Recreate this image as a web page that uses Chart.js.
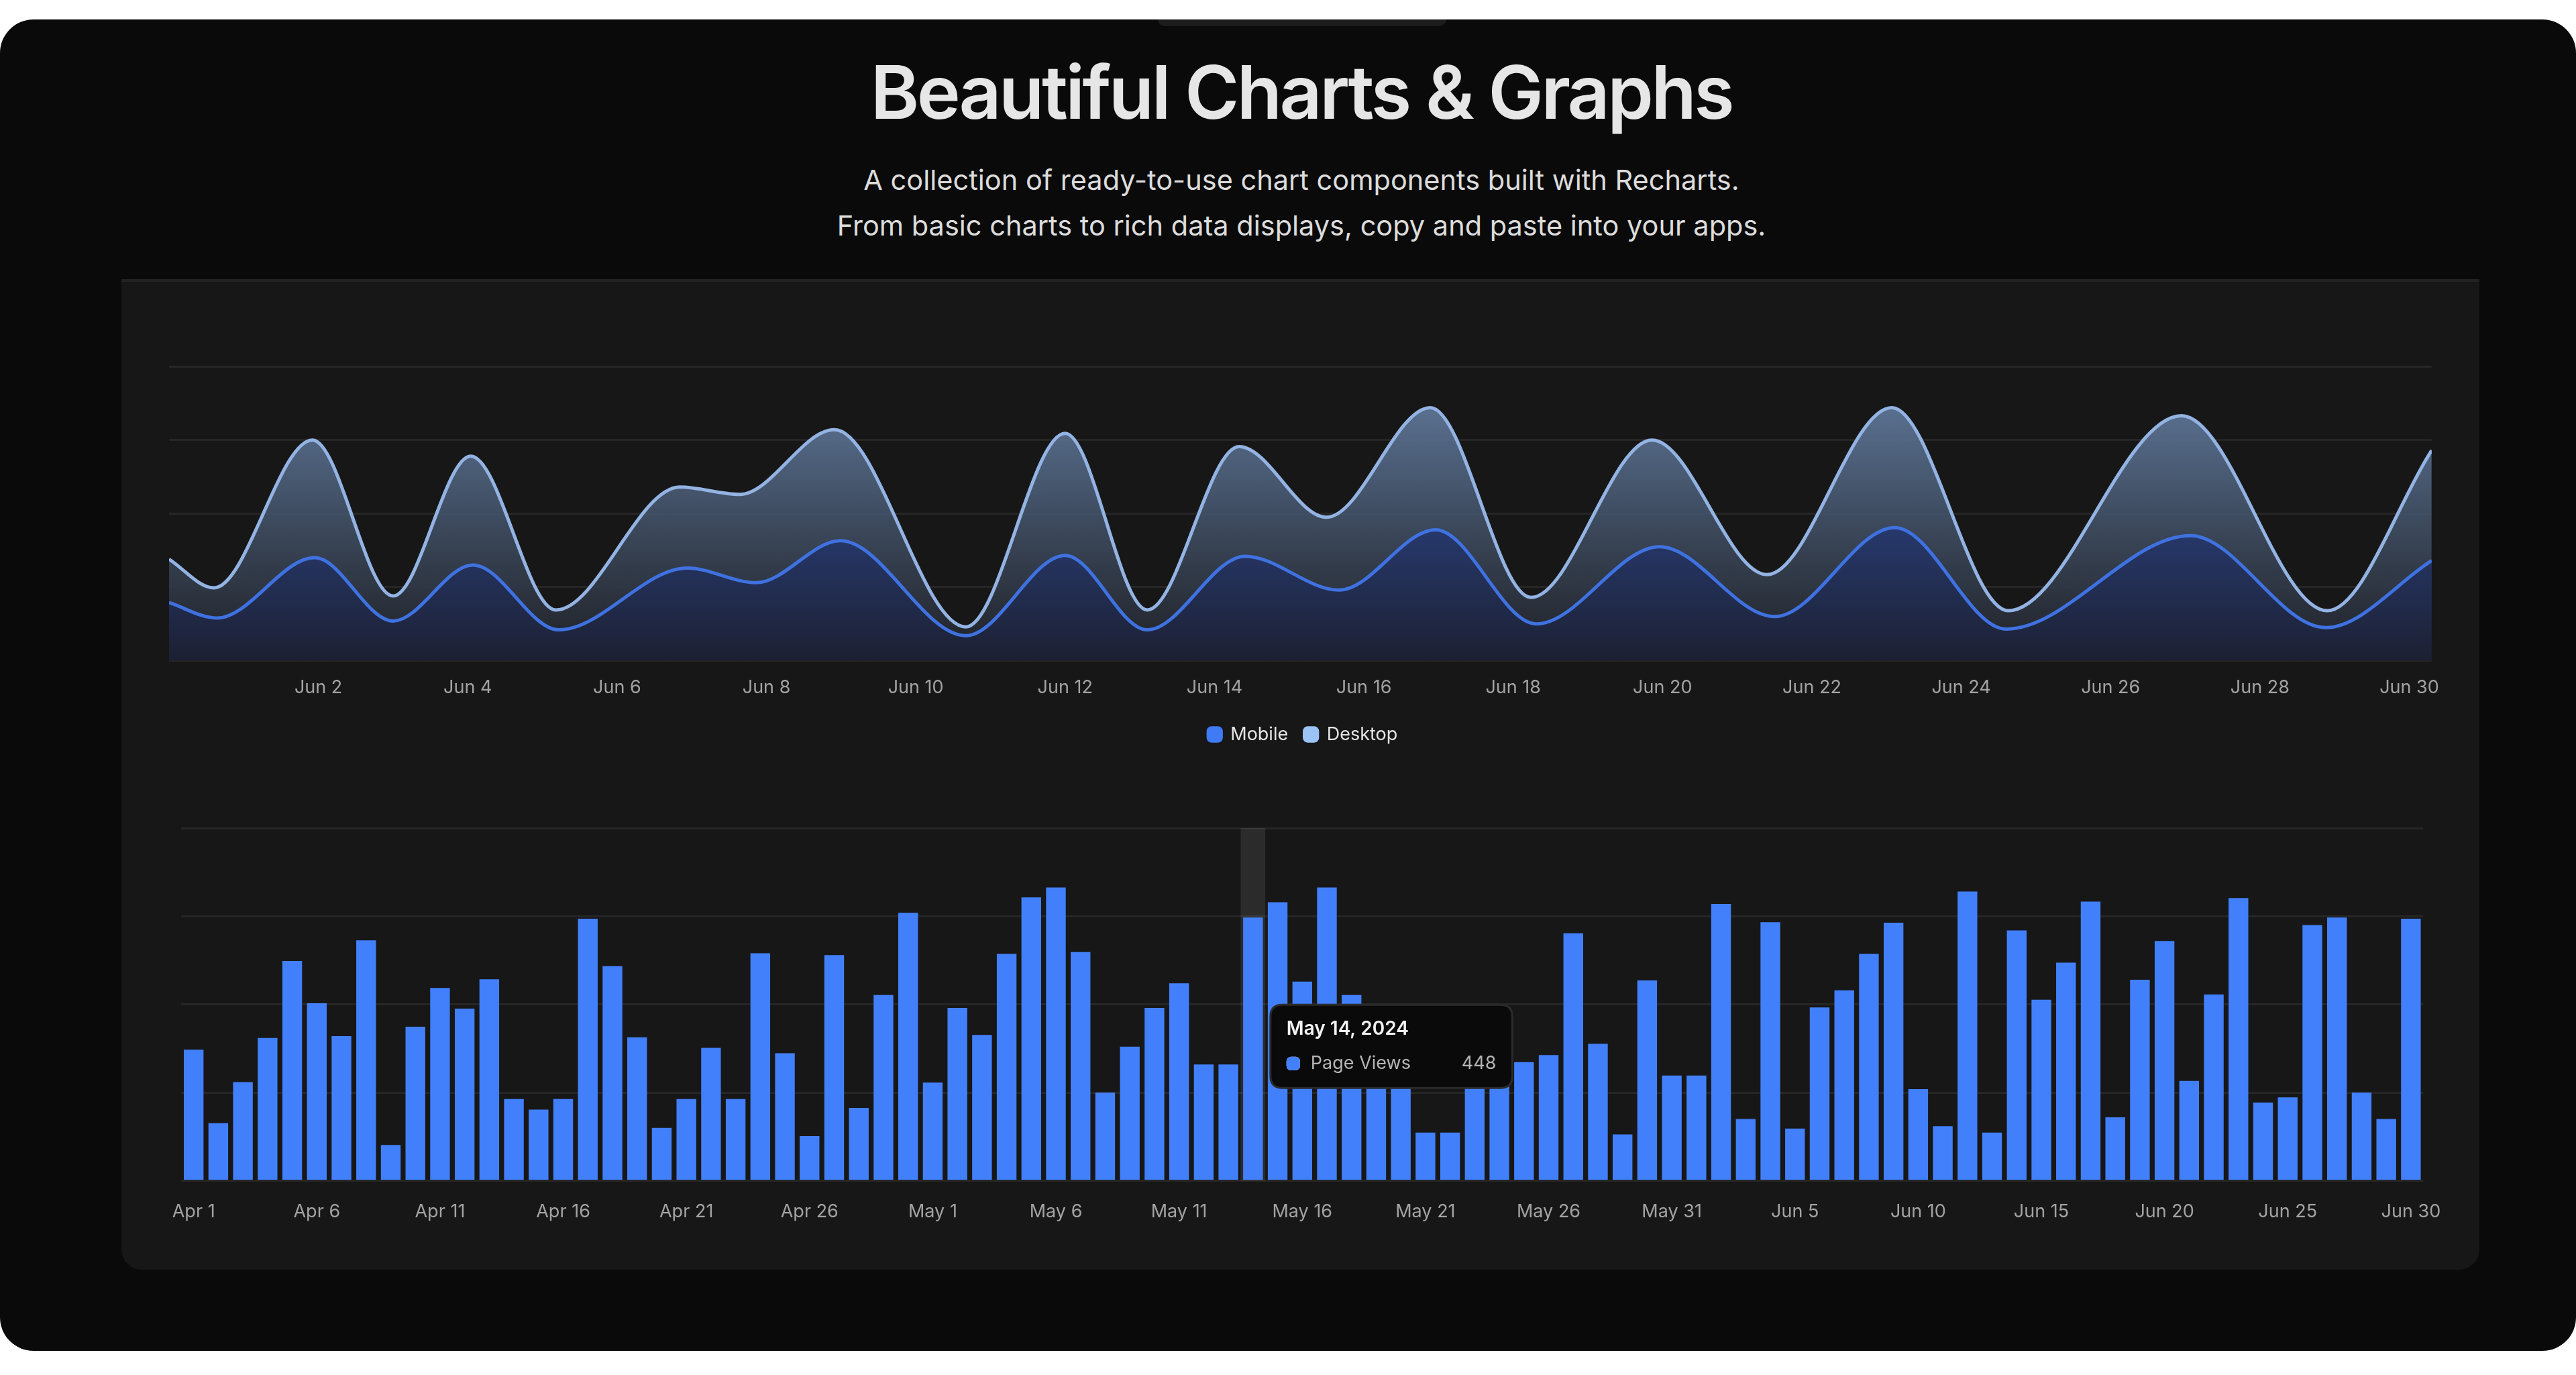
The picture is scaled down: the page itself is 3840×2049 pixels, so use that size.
<!DOCTYPE html>
<html>
<head>
<meta charset="utf-8">
<script src="https://cdn.jsdelivr.net/npm/chart.js@4.4.1/dist/chart.umd.min.js"></script>
<style>
  html, body { margin: 0; padding: 0; background: #fff; width: 3840px; height: 2049px; overflow: hidden; }
  #win { position: absolute; left: 0; top: 29px; width: 3840px; height: 1984px; background: #0a0a0a; border-radius: 50px; }
  #tab { position: absolute; left: 1726px; top: 29px; width: 430px; height: 10px; background: #1c1c1c; border-radius: 0 0 12px 12px; }
  h1 { position: absolute; left: 20px; width: 3840px; top: 70px; margin: 0; text-align: center; font-family: Inter, "Noto Sans", sans-serif; font-weight: 600; font-size: 110px; letter-spacing: -3.5px; color: #e6e6e6; }
  .sub { position: absolute; left: 20px; width: 3840px; text-align: center; font-family: Inter, "Noto Sans", sans-serif; font-size: 41.5px; color: #dcdcdc; }
  #card { position: absolute; left: 181px; top: 416px; width: 3515px; height: 1472px; background: #171717; border-top: 4px solid #222; border-radius: 0 0 30px 30px; }
  #areaWrap { position: absolute; left: 232px; top: 520px; }
  #barWrap { position: absolute; left: 235px; top: 1214px; }
  canvas { display: block; }
</style>
</head>
<body>
<div id="win"></div>
<div id="tab"></div>
<h1>Beautiful Charts &amp; Graphs</h1>
<div class="sub" style="top:243px">A collection of ready-to-use chart components built with Recharts.</div>
<div class="sub" style="top:311px">From basic charts to rich data displays, copy and paste into your apps.</div>
<div id="card"></div>
<div id="areaWrap"><canvas id="areaChart" width="3420" height="598" style="width:3420px;height:598px"></canvas></div>
<div id="barWrap"><canvas id="barChart" width="3425" height="630" style="width:3425px;height:630px"></canvas></div>
<script>
// area chart points: [day of June, value]
var mobileDays  = [0, 0.64, 1.95, 3.0, 4.07, 5.22, 6.94, 7.86, 8.99, 10.67, 12.0, 13.1, 14.41, 15.67, 16.96, 18.31, 19.96, 21.5, 23.11, 24.6, 27.07, 28.88, 30.3];
var mobileVals  = [79, 58, 140, 54, 130, 42, 126, 106, 163, 34, 143, 42, 142, 96, 178, 50, 155, 60, 181, 43, 170, 45, 136];
var desktopDays = [0, 0.6, 1.92, 3.0, 4.04, 5.18, 6.84, 7.64, 8.91, 10.67, 12.0, 13.1, 14.33, 15.5, 16.89, 18.24, 19.86, 21.4, 23.07, 24.63, 26.95, 28.9, 30.3];
var desktopVals = [138, 99, 300, 88, 278, 69, 236, 226, 314, 46, 309, 69, 291, 195, 344, 86, 300, 117, 344, 68, 333, 68, 286];
var areaTicks = [2, 4, 6, 8, 10, 12, 14, 16, 18, 20, 22, 24, 26, 28, 30];

// bar chart: page views Apr 1 - Jun 30
var pageViews = [
  223, 98, 168, 243, 374, 302, 246, 409, 61, 262, 328, 293, 343, 139, 121, 139, 446, 365, 244, 90,
  139, 226, 139, 387, 217, 76, 384, 124, 316, 456,
  167, 294, 248, 386, 482, 499, 389, 150, 228, 294, 336, 198, 198, 448, 474, 339, 499, 316, 280, 200,
  82, 82, 180, 295, 202, 214, 421, 233, 79, 341, 179,
  179, 471, 105, 440, 89, 295, 324, 386, 439, 156, 93, 492, 82, 426, 308, 371, 475, 108, 342, 408,
  170, 317, 481, 133, 142, 435, 448, 150, 105, 446
];
var months = [['Apr', 30], ['May', 31], ['Jun', 30]];
var dayLabels = [];
var fullLabels = [];
months.forEach(function (m) {
  for (var d = 1; d <= m[1]; d++) {
    dayLabels.push(m[0] + ' ' + d);
    fullLabels.push(m[0] + ' ' + d + ', 2024');
  }
});
var activeIndex = 43;

Chart.defaults.font.family = 'Inter, "Noto Sans", sans-serif';
Chart.defaults.color = '#a3a3a3';
Chart.defaults.animation = false;

function toPoints(xs, ys) {
  return xs.map(function (x, i) { return { x: x, y: ys[i] }; });
}

function vGrad(ctx, top, bottom) {
  var area = ctx.chart.chartArea;
  if (!area) return top;
  var g = ctx.chart.ctx.createLinearGradient(0, area.top, 0, area.bottom);
  g.addColorStop(0, top);
  g.addColorStop(1, bottom);
  return g;
}

var legendColors = ['#3f7bf5', '#9cc3f5'];

new Chart(document.getElementById('areaChart'), {
  type: 'line',
  data: {
    datasets: [{
      label: 'Mobile',
      data: toPoints(mobileDays, mobileVals),
      borderColor: '#3f72e0',
      backgroundColor: function (c) { return vGrad(c, 'rgba(48,84,180,0.95)', 'rgba(28,32,52,0.9)'); },
      fill: 'origin',
      borderWidth: 5,
      pointRadius: 0,
      cubicInterpolationMode: 'monotone'
    }, {
      label: 'Desktop',
      data: toPoints(desktopDays, desktopVals),
      borderColor: '#93b3e3',
      backgroundColor: function (c) { return vGrad(c, 'rgba(104,132,170,0.95)', 'rgba(30,32,38,0.9)'); },
      fill: 'origin',
      borderWidth: 5,
      pointRadius: 0,
      cubicInterpolationMode: 'monotone'
    }]
  },
  options: {
    responsive: false,
    maintainAspectRatio: false,
    devicePixelRatio: 1,
    layout: { padding: { top: 26, right: 20, left: 20 } },
    scales: {
      x: {
        type: 'linear',
        min: 0,
        max: 30.3,
        grid: { display: false },
        border: { display: false },
        afterBuildTicks: function (axis) { axis.ticks = areaTicks.map(function (v) { return { value: v }; }); },
        ticks: { font: { size: 27 }, color: '#a3a3a3', padding: 16, maxRotation: 0,
          callback: function (v) { return 'Jun ' + v; } }
      },
      y: {
        display: true,
        min: 0,
        max: 400,
        ticks: { display: false, stepSize: 100 },
        grid: { color: '#262626', lineWidth: 3, drawTicks: false },
        border: { display: false }
      }
    },
    plugins: {
      legend: {
        position: 'bottom',
        labels: {
          color: '#e5e5e5', font: { size: 27 }, usePointStyle: true, boxWidth: 20, boxHeight: 20, padding: 24,
          generateLabels: function (chart) {
            return chart.data.datasets.map(function (ds, i) {
              return { text: ds.label, fillStyle: legendColors[i], strokeStyle: legendColors[i], lineWidth: 0,
                pointStyle: 'rectRounded', fontColor: '#e5e5e5', datasetIndex: i, hidden: false };
            });
          }
        }
      },
      tooltip: { enabled: false }
    }
  }
});

var cursorPlugin = {
  id: 'cursor',
  beforeDatasetsDraw: function (chart) {
    var x = chart.scales.x;
    var step = x.getPixelForValue(1) - x.getPixelForValue(0);
    var cx = x.getPixelForValue(activeIndex);
    var c = chart.ctx;
    c.save();
    c.fillStyle = 'rgba(255,255,255,0.09)';
    c.fillRect(cx - step / 2, chart.chartArea.top, step, chart.chartArea.bottom - chart.chartArea.top);
    c.restore();
  }
};

Chart.Tooltip.positioners.beside = function (items) {
  if (!items.length) return false;
  var el = items[0].element;
  return { x: el.x + 44, y: el.y + 128 };
};

var barChart = new Chart(document.getElementById('barChart'), {
  type: 'bar',
  data: {
    labels: dayLabels,
    datasets: [{
      label: 'Page Views',
      data: pageViews,
      backgroundColor: '#4280fb',
      barPercentage: 0.8,
      categoryPercentage: 1
    }]
  },
  options: {
    responsive: false,
    maintainAspectRatio: false,
    devicePixelRatio: 1,
    layout: { padding: { top: 20 } },
    scales: {
      x: {
        grid: { display: false },
        border: { display: false },
        ticks: { autoSkip: false, maxRotation: 0, font: { size: 27 }, color: '#a3a3a3', padding: 22,
          callback: function (v, i) { return i % 5 === 0 ? dayLabels[i] : ''; } }
      },
      y: {
        min: 0,
        max: 600,
        ticks: { display: false, stepSize: 150 },
        grid: { color: '#262626', lineWidth: 3, drawTicks: false },
        border: { display: false }
      }
    },
    plugins: {
      legend: { display: false },
      tooltip: {
        position: 'beside',
        xAlign: 'left',
        yAlign: 'top',
        caretSize: 0,
        backgroundColor: '#0a0a0a',
        borderColor: '#2b2b2b',
        borderWidth: 3,
        cornerRadius: 18,
        padding: { x: 24, y: 20 },
        titleColor: '#f2f2f2',
        titleFont: { size: 28, weight: '600' },
        titleMarginBottom: 18,
        bodyColor: '#b5b5b5',
        bodyFont: { size: 27 },
        usePointStyle: true,
        boxWidth: 20,
        boxHeight: 20,
        boxPadding: 14,
        callbacks: {
          title: function (items) { return fullLabels[items[0].dataIndex]; },
          label: function (item) { return 'Page Views          ' + item.raw; },
          labelColor: function () { return { borderColor: '#4280fb', backgroundColor: '#4280fb' }; },
          labelPointStyle: function () { return { pointStyle: 'rectRounded', rotation: 0 }; }
        }
      }
    }
  },
  plugins: [cursorPlugin]
});

var el = barChart.getDatasetMeta(0).data[activeIndex];
barChart.tooltip.setActiveElements([{ datasetIndex: 0, index: activeIndex }], { x: el.x, y: el.y });
barChart.update();
</script>
</body>
</html>
